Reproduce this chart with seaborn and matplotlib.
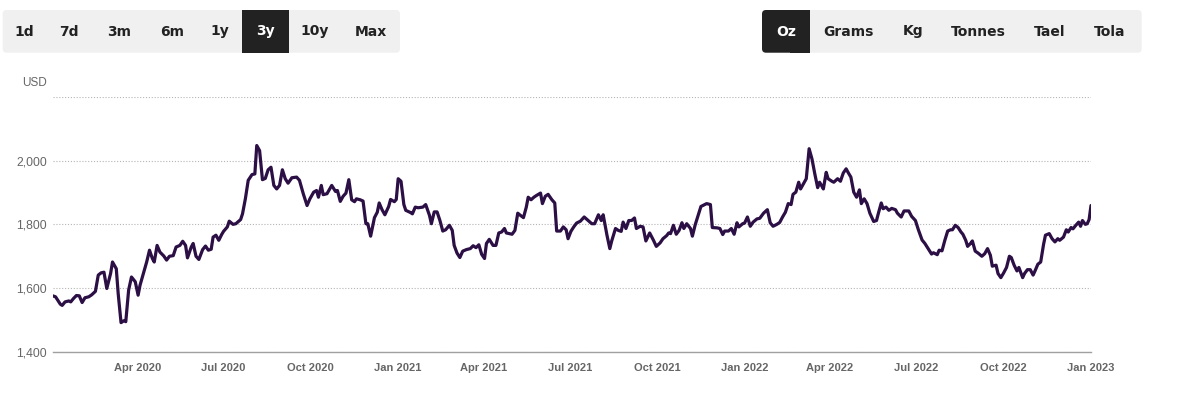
import numpy as np
import pandas as pd
import matplotlib
matplotlib.use("Agg")
import matplotlib.pyplot as plt
from matplotlib.patches import FancyBboxPatch, Rectangle
import seaborn as sns

# ---------------- data ----------------
days_since_2020 = [
    2, 5, 10, 12, 15, 19, 21, 24, 27, 30,
    33, 36, 40, 43, 47, 50, 53, 56, 59, 63,
    65, 69, 71, 74, 77, 79, 82, 85, 89, 92,
    94, 98, 101, 104, 107, 109, 112, 115, 119, 122,
    125, 129, 132, 136, 139, 142, 144, 148, 150, 153,
    156, 160, 163, 166, 169, 171, 174, 177, 180, 182,
    186, 188, 192, 195, 200, 202, 205, 208, 212, 215,
    217, 220, 223, 226, 229, 232, 235, 238, 241, 244,
    247, 250, 254, 259, 262, 266, 270, 273, 277, 280,
    282, 285, 287, 291, 296, 300, 302, 305, 308, 311,
    314, 317, 320, 322, 326, 329, 332, 334, 337, 341,
    344, 346, 349, 352, 356, 358, 362, 364, 366, 369,
    372, 374, 379, 381, 384, 387, 392, 395, 399, 401,
    404, 407, 410, 413, 416, 420, 423, 425, 428, 431,
    434, 438, 442, 445, 448, 451, 454, 457, 459, 462,
    466, 469, 472, 475, 478, 480, 486, 489, 492, 494,
    498, 501, 503, 506, 509, 512, 516, 518, 521, 524,
    528, 531, 533, 537, 540, 543, 545, 548, 551, 554,
    558, 562, 565, 570, 573, 577, 580, 582, 586, 589,
    591, 595, 598, 601, 603, 606, 609, 612, 615, 617,
    621, 624, 627, 631, 635, 638, 642, 645, 649, 651,
    653, 656, 659, 662, 665, 667, 670, 674, 676, 679,
    682, 685, 689, 691, 695, 697, 702, 705, 708, 710,
    714, 717, 720, 723, 725, 729, 731, 734, 737, 740,
    744, 747, 751, 755, 758, 761, 765, 768, 771, 774,
    777, 780, 782, 785, 788, 790, 793, 796, 799, 802,
    805, 808, 810, 812, 814, 817, 819, 823, 825, 829,
    832, 835, 838, 840, 843, 846, 849, 852, 854, 857,
    860, 863, 867, 870, 872, 875, 877, 880, 883, 886,
    890, 892, 896, 899, 904, 907, 911, 914, 918, 921,
    925, 928, 930, 934, 936, 939, 942, 945, 948, 950,
    953, 956, 959, 961, 964, 966, 969, 971, 974, 977,
    981, 984, 987, 990, 992, 996, 998, 1001, 1004, 1007,
    1010, 1012, 1015, 1018, 1020, 1024, 1026, 1029, 1032, 1035,
    1037, 1040, 1043, 1046, 1048, 1052, 1055, 1058, 1061, 1063,
    1067, 1070, 1072, 1075, 1077, 1080, 1083, 1085, 1087, 1090,
    1092, 1094, 1096,
]
price_usd = [
    1576, 1573, 1550, 1546, 1557, 1560, 1557, 1568, 1577, 1576,
    1555, 1570, 1573, 1579, 1590, 1641, 1648, 1650, 1599, 1646,
    1682, 1661, 1583, 1492, 1498, 1495, 1594, 1635, 1620, 1578,
    1609, 1651, 1682, 1719, 1693, 1682, 1734, 1713, 1701, 1688,
    1700, 1702, 1729, 1734, 1747, 1734, 1695, 1729, 1740, 1700,
    1690, 1721, 1732, 1719, 1722, 1760, 1766, 1750, 1768, 1778,
    1792, 1810, 1800, 1802, 1815, 1833, 1880, 1938, 1956, 1958,
    2047, 2031, 1940, 1944, 1971, 1979, 1922, 1911, 1922, 1971,
    1943, 1929, 1946, 1948, 1938, 1896, 1859, 1880, 1901, 1906,
    1885, 1922, 1893, 1896, 1922, 1903, 1906, 1872, 1888, 1898,
    1940, 1877, 1871, 1880, 1877, 1873, 1802, 1802, 1763, 1821,
    1838, 1867, 1846, 1830, 1856, 1878, 1871, 1878, 1943, 1935,
    1862, 1844, 1837, 1833, 1854, 1852, 1854, 1862, 1828, 1802,
    1839, 1839, 1812, 1779, 1783, 1797, 1781, 1734, 1710, 1696,
    1716, 1721, 1724, 1733, 1727, 1736, 1706, 1693, 1740, 1753,
    1734, 1734, 1773, 1776, 1787, 1773, 1769, 1781, 1835, 1830,
    1821, 1854, 1885, 1877, 1885, 1891, 1898, 1865, 1888, 1894,
    1877, 1867, 1779, 1779, 1792, 1783, 1755, 1778, 1792, 1804,
    1810, 1823, 1815, 1802, 1802, 1830, 1812, 1830, 1766, 1724,
    1748, 1787, 1781, 1778, 1807, 1787, 1812, 1812, 1820, 1787,
    1794, 1792, 1748, 1773, 1750, 1731, 1742, 1755, 1765, 1773,
    1771, 1797, 1769, 1781, 1805, 1787, 1802, 1787, 1763, 1799,
    1828, 1856, 1862, 1865, 1862, 1790, 1789, 1787, 1768, 1779,
    1779, 1787, 1769, 1805, 1792, 1802, 1804, 1823, 1794, 1807,
    1817, 1819, 1835, 1846, 1805, 1794, 1800, 1806, 1823, 1838,
    1865, 1862, 1894, 1901, 1932, 1911, 1927, 1943, 2037, 2005,
    1958, 1915, 1932, 1922, 1911, 1963, 1943, 1935, 1932, 1943,
    1935, 1961, 1974, 1963, 1948, 1901, 1885, 1908, 1865, 1880,
    1865, 1835, 1809, 1812, 1835, 1867, 1849, 1854, 1844, 1850,
    1846, 1835, 1823, 1842, 1842, 1825, 1812, 1784, 1751, 1740,
    1721, 1707, 1711, 1705, 1719, 1717, 1750, 1779, 1783, 1783,
    1797, 1790, 1776, 1769, 1750, 1731, 1740, 1748, 1716, 1710,
    1700, 1708, 1724, 1703, 1669, 1672, 1646, 1633, 1648, 1665,
    1700, 1696, 1672, 1654, 1665, 1633, 1646, 1658, 1658, 1641,
    1654, 1675, 1682, 1737, 1766, 1771, 1755, 1745, 1755, 1750,
    1760, 1783, 1776, 1790, 1786, 1797, 1807, 1794, 1812, 1800,
    1802, 1815, 1859,
]
x_tick_dates = ["2020-04-01", "2020-07-01", "2020-10-01", "2021-01-01",
                "2021-04-01", "2021-07-01", "2021-10-01", "2022-01-01",
                "2022-04-01", "2022-07-01", "2022-10-01", "2023-01-01"]
x_tick_labels = ["Apr 2020", "Jul 2020", "Oct 2020", "Jan 2021",
                 "Apr 2021", "Jul 2021", "Oct 2021", "Jan 2022",
                 "Apr 2022", "Jul 2022", "Oct 2022", "Jan 2023"]
y_ticks = [1400, 1600, 1800, 2000, 2200]
y_tick_labels = ["1,400", "1,600", "1,800", "2,000", ""]
range_buttons = ["1d", "7d", "3m", "6m", "1y", "3y", "10y", "Max"]
range_active = "3y"
unit_buttons = ["Oz", "Grams", "Kg", "Tonnes", "Tael", "Tola"]
unit_active = "Oz"
y_unit = "USD"

# ---------------- figure ----------------
sns.set_theme(style="white")
plt.rcParams["font.family"] = ["Liberation Sans", "DejaVu Sans"]

W, H = 1196, 395
fig = plt.figure(figsize=(W / 100, H / 100), dpi=100)
fig.patch.set_facecolor("white")

df = pd.DataFrame({
    "date": pd.Timestamp("2020-01-01") + pd.to_timedelta(days_since_2020, unit="D"),
    "price": price_usd,
})

# main plot area in pixels
L, R, T, B = 52.7, 1091.0, 96.7, 352.0
ax = fig.add_axes([L / W, 1 - B / H, (R - L) / W, (B - T) / H])
sns.lineplot(data=df, x="date", y="price", ax=ax, color="#2b0f45",
             linewidth=2.3, zorder=3)
ax.set_xlim(df["date"].iloc[0], df["date"].iloc[-1])
ax.set_ylim(1400, 2200)
ax.set_xlabel("")
ax.set_ylabel("")

ax.set_yticks(y_ticks)
ax.set_yticklabels(y_tick_labels)
ax.set_xticks(pd.to_datetime(x_tick_dates))
ax.set_xticklabels(x_tick_labels)

ax.yaxis.grid(True, linestyle=(0, (1, 1.6)), color="#b5b5b5", linewidth=0.8)
ax.xaxis.grid(False)
for s in ["top", "right", "left"]:
    ax.spines[s].set_visible(False)
ax.spines["bottom"].set_color("#a0a0a0")
ax.spines["bottom"].set_linewidth(1.0)
ax.tick_params(axis="y", length=0, pad=4, labelsize=8.8, labelcolor="#666666")
ax.tick_params(axis="x", direction="out", length=6.8, width=0.8, color="#c4c4c4",
               pad=0.8, labelsize=8, labelcolor="#666666")
for lab in ax.get_xticklabels():
    lab.set_fontweight("bold")
ax.set_facecolor("white")

# ---------------- overlay for buttons and unit label ----------------
ov = fig.add_axes([0, 0, 1, 1])
ov.set_xlim(0, W)
ov.set_ylim(H, 0)
ov.axis("off")
ov.patch.set_alpha(0)

ov.text(22, 83, y_unit, ha="left", va="center", fontsize=8.5, color="#666666")

btn_font = dict(fontsize=10, fontweight="bold", family=["DejaVu Sans"])

# left group
ov.add_patch(FancyBboxPatch((2.7, 10), 397.3, 42.7,
                            boxstyle="round,pad=0,rounding_size=4",
                            fc="#f0f0f0", ec="none"))
range_centers = [24, 69.3, 119.3, 172.3, 220, 265.3, 315, 370.7]
for lab, cx in zip(range_buttons, range_centers):
    if lab == range_active:
        ov.add_patch(Rectangle((242, 10), 46.7, 42.7, fc="#222222", ec="none"))
        ov.text(cx, 31.5, lab, ha="center", va="center", color="white", **btn_font)
    else:
        ov.text(cx, 31.5, lab, ha="center", va="center", color="#222222", **btn_font)

# right group
ov.add_patch(FancyBboxPatch((762, 10), 379.7, 42.7,
                            boxstyle="round,pad=0,rounding_size=4",
                            fc="#f0f0f0", ec="none"))
unit_centers = [786, 848.7, 912.7, 978.3, 1049.3, 1110]
for lab, cx in zip(unit_buttons, unit_centers):
    if lab == unit_active:
        ov.add_patch(FancyBboxPatch((762, 10), 48, 42.7,
                                    boxstyle="round,pad=0,rounding_size=4",
                                    fc="#222222", ec="none"))
        ov.add_patch(Rectangle((790, 10), 20, 42.7, fc="#222222", ec="none"))
        ov.text(cx, 31.5, lab, ha="center", va="center", color="white", **btn_font)
    else:
        ov.text(cx, 31.5, lab, ha="center", va="center", color="#222222", **btn_font)

fig.savefig("out.png", dpi=100, facecolor="white")
